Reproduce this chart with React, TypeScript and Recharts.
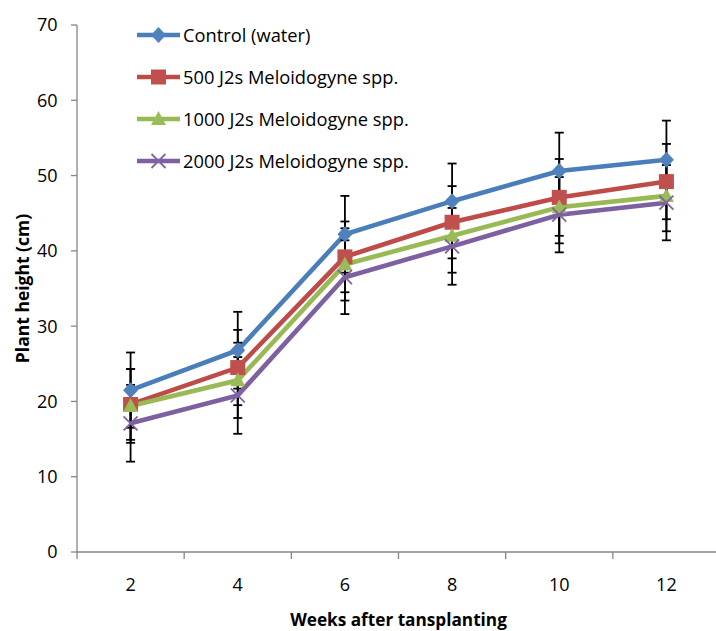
import React from 'react';
import { LineChart, Line, XAxis, YAxis, ErrorBar, Legend } from 'recharts';

const weeks = [2, 4, 6, 8, 10, 12];
const seriesNames = [
  'Control (water)',
  '500 J2s Meloidogyne spp.',
  '1000 J2s Meloidogyne spp.',
  '2000 J2s Meloidogyne spp.',
];
const control = [21.5, 26.8, 42.2, 46.6, 50.6, 52.1];
const m500 = [19.6, 24.5, 39.2, 43.8, 47.1, 49.2];
const m1000 = [19.4, 22.8, 38.2, 42.0, 45.8, 47.3];
const m2000 = [17.1, 20.8, 36.5, 40.6, 44.8, 46.4];
const controlErr = [5.0, 5.1, 5.1, 5.0, 5.1, 5.2];
const m500Err = [4.7, 5.0, 4.7, 4.8, 5.1, 5.0];
const m1000Err = [4.9, 5.0, 4.8, 4.9, 4.8, 4.7];
const m2000Err = [5.1, 5.1, 4.9, 5.1, 5.0, 5.0];
const yTicks = [0, 10, 20, 30, 40, 50, 60, 70];
const yLabel = 'Plant height (cm)';
const xLabel = 'Weeks after tansplanting';

const data = weeks.map((w, i) => ({
  week: w,
  control: control[i],
  controlErr: controlErr[i],
  m500: m500[i],
  m500Err: m500Err[i],
  m1000: m1000[i],
  m1000Err: m1000Err[i],
  m2000: m2000[i],
  m2000Err: m2000Err[i],
}));

// category boundaries (Excel-style tick marks between categories)
const boundaryTicks = [weeks[0] - 1, ...weeks.map((w) => w + 1)];
const xTicks = [...boundaryTicks, ...weeks].sort((a, b) => a - b);

const FONT = '"Open Sans", sans-serif';
const AXIS_COLOR = '#868686';
const X_TICK_SIZE = 7;
const X_TICK_MARGIN = 19.5;

const COLORS = {
  control: { line: '#4A7EBB', fill: '#4F81BD' },
  m500: { line: '#BE4B48', fill: '#C0504D' },
  m1000: { line: '#98B954', fill: '#9BBB59' },
  m2000: { line: '#7D60A0', fill: '#8064A2' },
};

type Kind = 'diamond' | 'square' | 'triangle' | 'cross';

const Marker = ({ kind, cx, cy, color }: { kind: Kind; cx: number; cy: number; color: string }) => {
  if (kind === 'diamond') {
    return (
      <polygon
        points={`${cx},${cy - 8} ${cx + 7.5},${cy} ${cx},${cy + 8} ${cx - 7.5},${cy}`}
        fill={color}
      />
    );
  }
  if (kind === 'square') {
    return <rect x={cx - 7.5} y={cy - 7.5} width={15} height={15} fill={color} />;
  }
  if (kind === 'triangle') {
    return (
      <polygon
        points={`${cx},${cy - 8} ${cx + 7.5},${cy + 6} ${cx - 7.5},${cy + 6}`}
        fill={color}
      />
    );
  }
  return (
    <g stroke={color} strokeWidth={1.8}>
      <line x1={cx - 7} y1={cy - 7} x2={cx + 7} y2={cy + 7} />
      <line x1={cx - 7} y1={cy + 7} x2={cx + 7} y2={cy - 7} />
    </g>
  );
};

const makeDot = (kind: Kind, color: string) => (props: any) => {
  const { cx, cy, index } = props;
  if (cx == null || cy == null) return <g key={`d-${kind}-${index}`} />;
  return (
    <g key={`d-${kind}-${index}`}>
      <Marker kind={kind} cx={cx} cy={cy} color={color} />
    </g>
  );
};

const series: { key: keyof typeof COLORS; err: string; name: string; kind: Kind }[] = [
  { key: 'control', err: 'controlErr', name: seriesNames[0], kind: 'diamond' },
  { key: 'm500', err: 'm500Err', name: seriesNames[1], kind: 'square' },
  { key: 'm1000', err: 'm1000Err', name: seriesNames[2], kind: 'triangle' },
  { key: 'm2000', err: 'm2000Err', name: seriesNames[3], kind: 'cross' },
];

const XTick = (props: any) => {
  const { x, y, payload } = props;
  const v = payload.value;
  if (weeks.includes(v)) {
    return (
      <text x={x} y={y} dy="0.71em" textAnchor="middle" fontFamily={FONT} fontSize={18} fill="#000">
        {v}
      </text>
    );
  }
  const axisY = y - X_TICK_SIZE - X_TICK_MARGIN;
  return <line x1={x} x2={x} y1={axisY} y2={axisY + X_TICK_SIZE} stroke={AXIS_COLOR} strokeWidth={1.3} />;
};

const LegendContent = () => (
  <div style={{ fontFamily: FONT, fontSize: 18.3, color: '#000' }}>
    {series.map((s) => (
      <div key={s.key} style={{ height: 42, display: 'flex', alignItems: 'center' }}>
        <svg width={46} height={20} style={{ display: 'block' }}>
          <line x1={0} x2={43} y1={10} y2={10} stroke={COLORS[s.key].line} strokeWidth={4.5} />
          <Marker kind={s.kind} cx={21.5} cy={10} color={COLORS[s.key].fill} />
        </svg>
        <span style={{ whiteSpace: 'nowrap', lineHeight: 1 }}>{s.name}</span>
      </div>
    ))}
  </div>
);

export default function App() {
  return (
    <div style={{ position: 'absolute', left: 0, top: 0, width: 716, height: 631, overflow: 'hidden', background: '#fff' }}>
      <LineChart width={724} height={631} data={data} margin={{ top: 25, right: 4, bottom: 0, left: 0 }}>
        <XAxis
          dataKey="week"
          type="number"
          domain={[boundaryTicks[0], boundaryTicks[boundaryTicks.length - 1]]}
          ticks={xTicks}
          interval={0}
          tick={<XTick />}
          tickLine={false}
          tickSize={X_TICK_SIZE}
          tickMargin={X_TICK_MARGIN}
          height={79}
          axisLine={{ stroke: AXIS_COLOR, strokeWidth: 1.3 }}
          label={{
            value: xLabel,
            position: 'insideBottom',
            offset: 5,
            style: { fontFamily: FONT, fontSize: 17.2, fontWeight: 700, fill: '#000' },
          }}
        />
        <YAxis
          type="number"
          domain={[0, 70]}
          ticks={yTicks}
          interval={0}
          width={77}
          tickSize={6}
          tickMargin={13.5}
          axisLine={{ stroke: AXIS_COLOR, strokeWidth: 1.3 }}
          tickLine={{ stroke: AXIS_COLOR, strokeWidth: 1.3 }}
          tick={{ fontFamily: FONT, fontSize: 18, fill: '#000' }}
          label={{
            value: yLabel,
            angle: -90,
            position: 'insideLeft',
            offset: 23,
            style: { fontFamily: FONT, fontSize: 17.5, fontWeight: 700, fill: '#000', textAnchor: 'middle' },
          }}
        />
        <Legend
          layout="vertical"
          verticalAlign="middle"
          align="center"
          content={<LegendContent />}
          wrapperStyle={{ position: 'absolute', left: 137, top: 14, width: 320 }}
        />
        {series.map((s) => (
          <Line
            key={s.key}
            dataKey={s.key}
            name={s.name}
            type="linear"
            stroke={COLORS[s.key].line}
            strokeWidth={4.6}
            dot={makeDot(s.kind, COLORS[s.key].fill)}
            activeDot={false}
            isAnimationActive={false}
          >
            <ErrorBar dataKey={s.err} direction="y" width={4.5} strokeWidth={1.8} stroke="#000" />
          </Line>
        ))}
      </LineChart>
    </div>
  );
}
